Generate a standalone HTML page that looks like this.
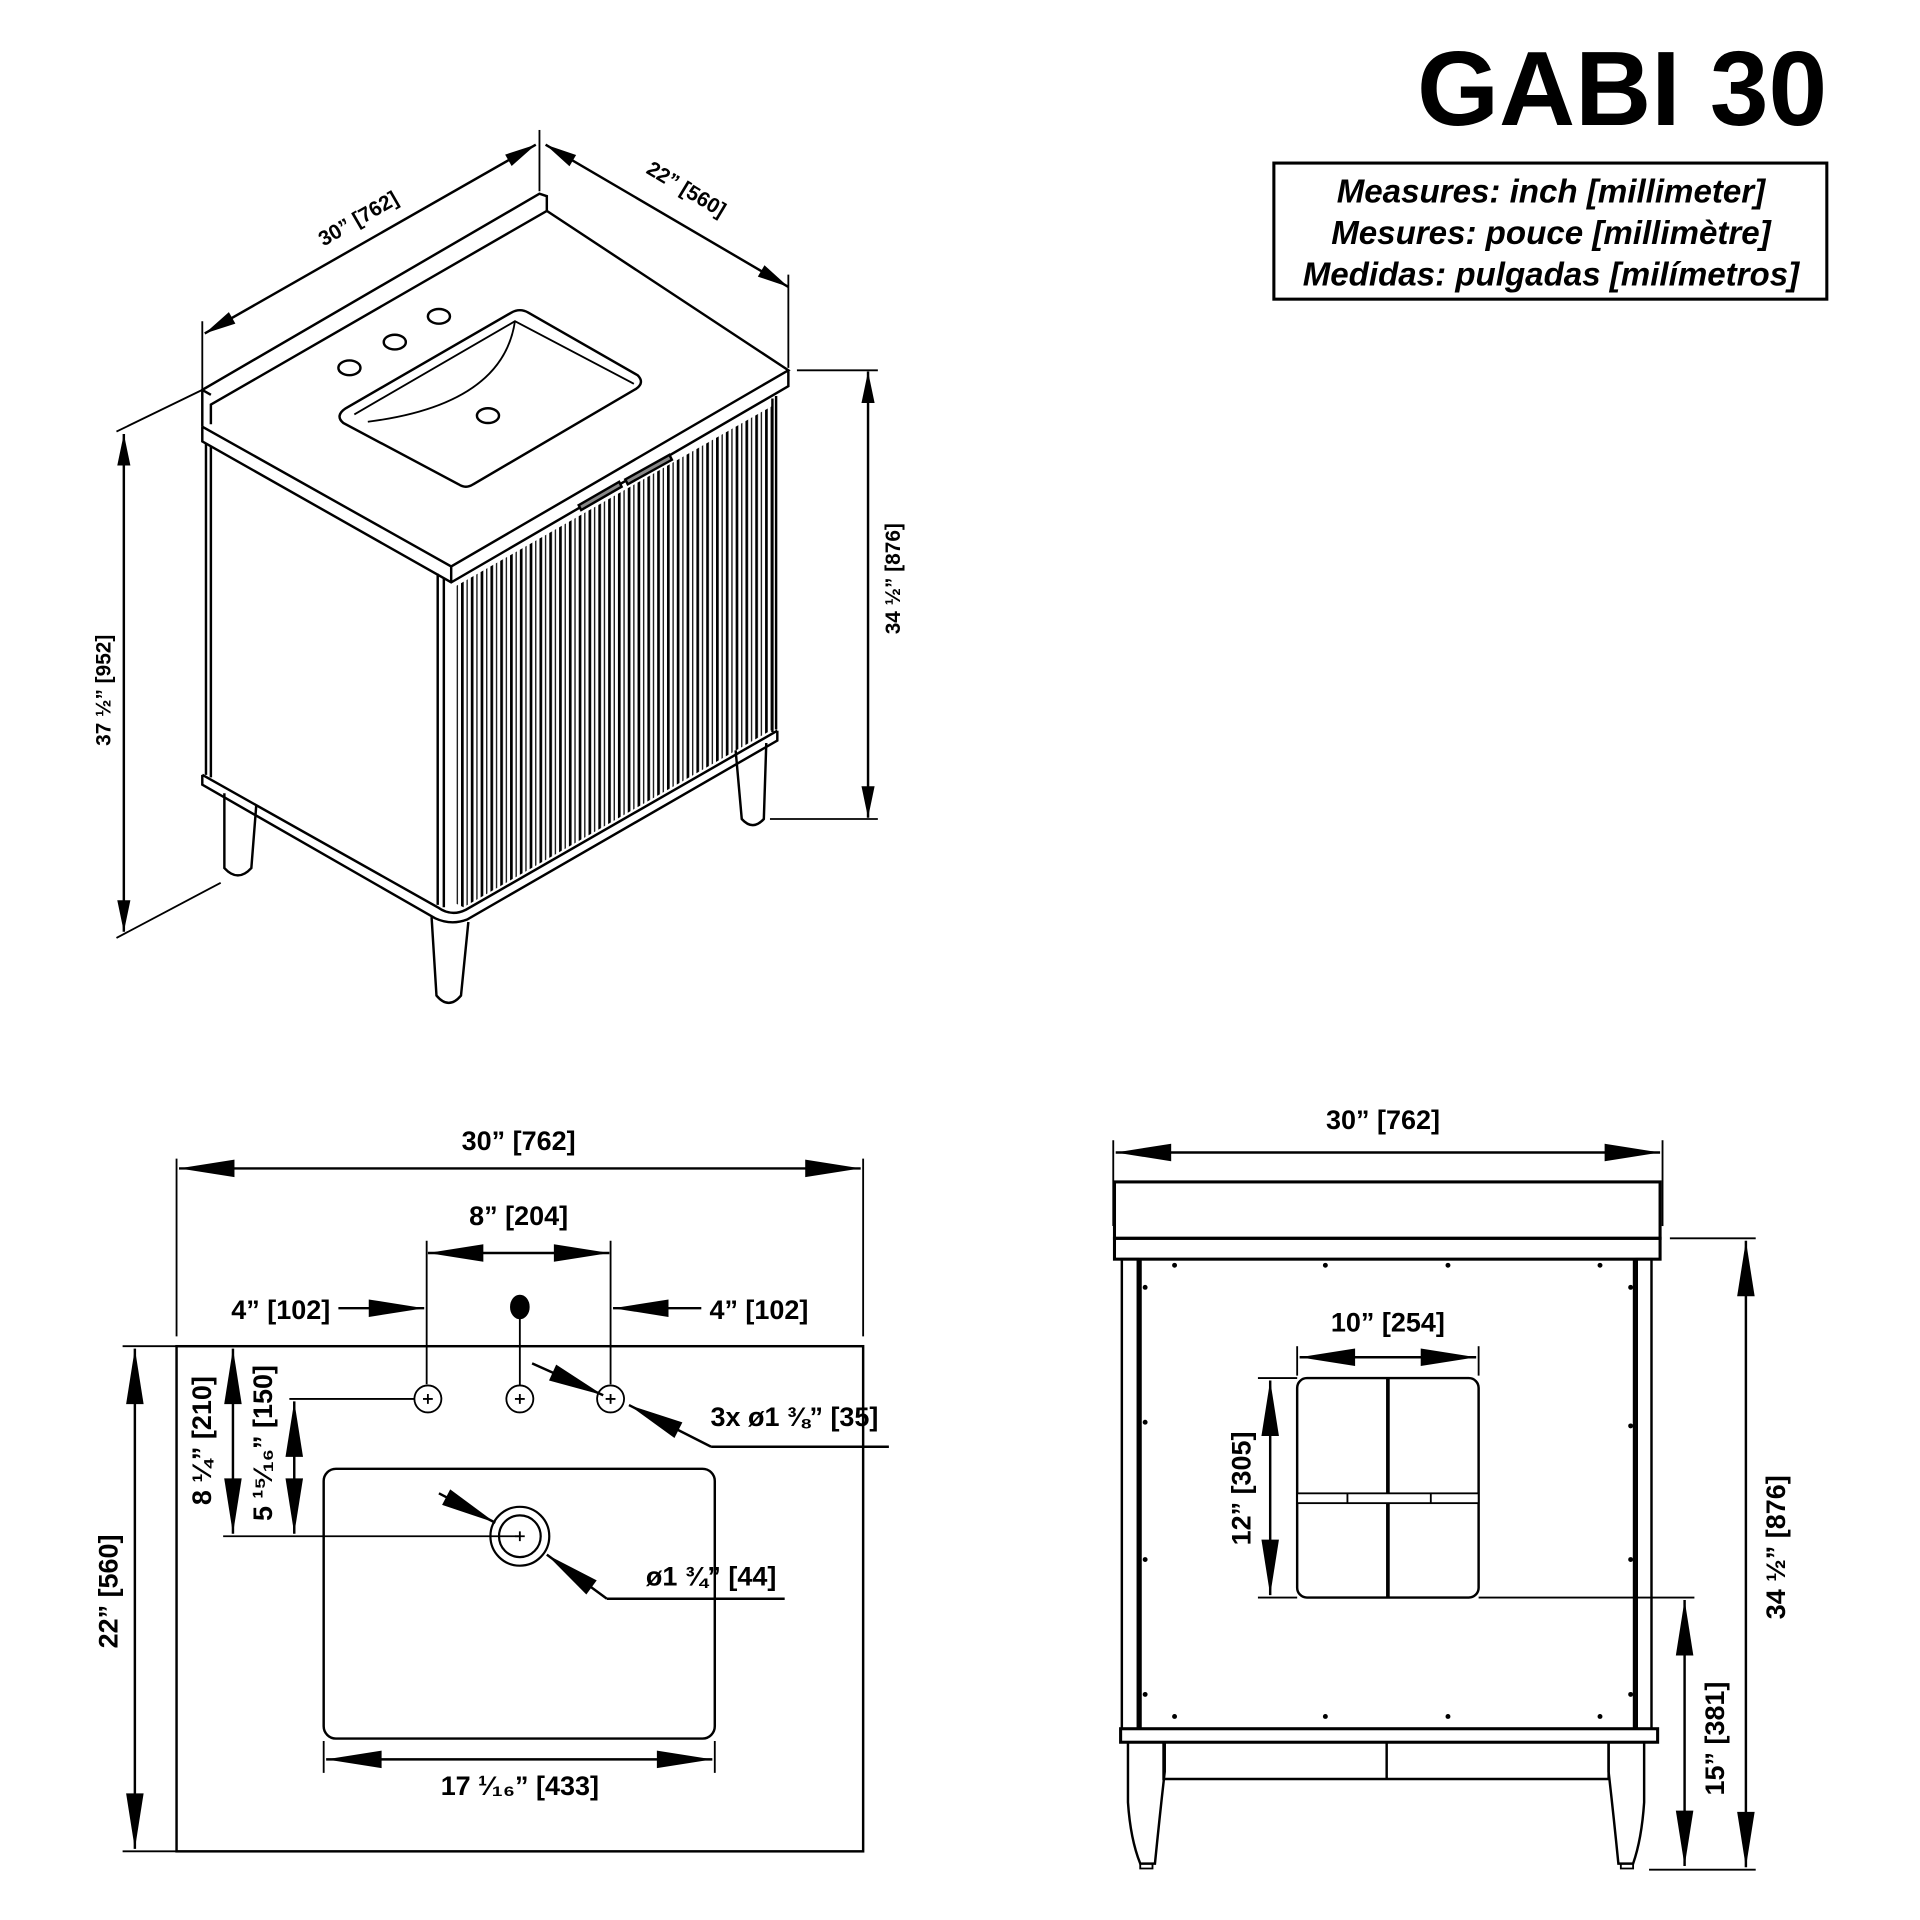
<!DOCTYPE html>
<html><head><meta charset="utf-8"><style>
html,body{margin:0;padding:0;background:#fff}
svg{display:block}
text{font-family:"Liberation Sans",sans-serif;font-weight:bold;fill:#000}
</style></head><body>
<svg width="1920" height="1920" viewBox="0 0 1566 1566" xmlns="http://www.w3.org/2000/svg">
<defs>
<marker id="a" markerUnits="userSpaceOnUse" markerWidth="50" markerHeight="20" viewBox="-40 -8 42 16" refX="0" refY="0" orient="auto-start-reverse"><path d="M0,0 L-38,-6 L-38,6 z" fill="#000"/></marker>
<marker id="s" markerUnits="userSpaceOnUse" markerWidth="30" markerHeight="14" viewBox="-26 -6 28 12" refX="0" refY="0" orient="auto-start-reverse"><path d="M0,0 L-24,-5 L-24,5 z" fill="#000"/></marker>
<pattern id="fl" patternUnits="userSpaceOnUse" width="8" height="10"><rect x="0" y="0" width="2.2" height="10" fill="#000"/><rect x="4.5" y="0" width="1" height="10" fill="#000"/></pattern>
</defs>
<g fill="none" stroke="#000" stroke-width="2">

<!-- Title -->
<text x="1323" y="102" font-size="86" text-anchor="middle" stroke="none">GABI 30</text>
<rect x="1039" y="133" width="451" height="111" stroke-width="2.5"/>
<g font-style="italic" font-size="27" text-anchor="middle" stroke="none">
<text x="1265" y="165">Measures: inch [millimeter]</text>
<text x="1265" y="199">Mesures: pouce [millimètre]</text>
<text x="1265" y="233">Medidas: pulgadas [milímetros]</text>
</g>

<!-- ISO VIEW -->
<path d="M165,348 L165,318 L440,158 L446,160 L446,172 L172,330 L172,346"/>
<line x1="165" y1="318" x2="172" y2="322"/>
<path d="M165,348 L368,462 L643,302 L446,172"/>
<path d="M165,348 L165,360 L368,475 L643,315 L643,302"/>
<line x1="368" y1="462" x2="368" y2="475"/>
<path d="M282,333 L417,255 Q424,251 431,255 L520,306 Q526,312 519,317 L386,395 Q380,399 374,395 L280,345 Q273,339 282,333 z"/>
<path d="M289,338 L420,262 L517,313" stroke-width="1.5"/>
<path d="M420,262 Q410,330 300,344" stroke-width="1.5"/>
<ellipse cx="285" cy="300" rx="9" ry="6"/>
<ellipse cx="322" cy="279" rx="9" ry="6"/>
<ellipse cx="358" cy="258" rx="9" ry="6"/>
<ellipse cx="398" cy="339" rx="9" ry="6"/>
<line x1="168" y1="362" x2="168" y2="632"/>
<line x1="172" y1="364" x2="172" y2="634"/>
<polygon points="372,478 630,331 630,595 378,740 372,737" fill="url(#fl)" stroke="none"/>
<line x1="357" y1="468" x2="357" y2="738"/>
<line x1="362" y1="471" x2="362" y2="740"/>
<line x1="630" y1="325" x2="630" y2="597"/>
<line x1="633" y1="323" x2="633" y2="595"/>
<path d="M472,412 L505,393 L507,397 L474,416 z" fill="#888"/>
<path d="M510,391 L546,371 L548,375 L512,395 z" fill="#888"/>
<path d="M165,632 L357,740 Q368,748 380,742 L634,596"/>
<path d="M165,632 L165,640 L355,749 Q368,755 381,750 L634,604 L634,596"/>
<path d="M183,647 L183,708 Q194,720 205,708 L209,657"/>
<path d="M352,748 L356,812 Q366,824 376,812 L382,752"/>
<path d="M600,612 L605,668 Q614,678 623,668 L625,606"/>
<line x1="167" y1="272" x2="437" y2="118" marker-start="url(#s)" marker-end="url(#s)"/>
<line x1="165" y1="262" x2="165" y2="318" stroke-width="1.5"/>
<line x1="440" y1="106" x2="440" y2="156" stroke-width="1.5"/>
<line x1="445" y1="118" x2="643" y2="234" marker-start="url(#s)" marker-end="url(#s)"/>
<line x1="643" y1="224" x2="643" y2="300" stroke-width="1.5"/>
<text x="292" y="184" font-size="17" text-anchor="middle" stroke="none" font-weight="normal" transform="rotate(-30 292 178)">30” [762]</text>
<text x="560" y="160" font-size="17" text-anchor="middle" stroke="none" font-weight="normal" transform="rotate(31 560 154)">22” [560]</text>
<line x1="708" y1="303" x2="708" y2="667" marker-start="url(#s)" marker-end="url(#s)"/>
<line x1="650" y1="302" x2="716" y2="302" stroke-width="1.5"/>
<line x1="628" y1="668" x2="716" y2="668" stroke-width="1.5"/>
<text x="734" y="472" font-size="17" text-anchor="middle" stroke="none" transform="rotate(-90 734 472)">34 ½” [876]</text>
<line x1="101" y1="354" x2="101" y2="760" marker-start="url(#s)" marker-end="url(#s)"/>
<line x1="95" y1="352" x2="165" y2="318" stroke-width="1.5"/>
<line x1="95" y1="765" x2="180" y2="720" stroke-width="1.5"/>
<text x="90" y="563" font-size="17" text-anchor="middle" stroke="none" transform="rotate(-90 90 563)">37 ½” [952]</text>

<!-- PLAN VIEW -->
<rect x="144" y="1098" width="560" height="412"/>
<line x1="144" y1="945" x2="144" y2="1090" stroke-width="1.5"/>
<line x1="704" y1="945" x2="704" y2="1090" stroke-width="1.5"/>
<line x1="146" y1="953" x2="702" y2="953" marker-start="url(#a)" marker-end="url(#a)"/>
<text x="423" y="938" font-size="22" text-anchor="middle" stroke="none">30” [762]</text>
<line x1="348" y1="1012" x2="348" y2="1129" stroke-width="1.5"/>
<line x1="498" y1="1012" x2="498" y2="1129" stroke-width="1.5"/>
<line x1="349" y1="1022" x2="497" y2="1022" marker-start="url(#a)" marker-end="url(#a)"/>
<text x="423" y="999" font-size="22" text-anchor="middle" stroke="none">8” [204]</text>
<line x1="276" y1="1067" x2="346" y2="1067" marker-end="url(#a)"/>
<text x="229" y="1076" font-size="22" text-anchor="middle" stroke="none">4” [102]</text>
<line x1="572" y1="1067" x2="500" y2="1067" marker-end="url(#a)"/>
<text x="619" y="1076" font-size="22" text-anchor="middle" stroke="none">4” [102]</text>
<ellipse cx="424" cy="1066" rx="7" ry="9" fill="#000"/>
<line x1="424" y1="1066" x2="424" y2="1130" stroke-width="1.5"/>
<g stroke-width="1.5">
<circle cx="349" cy="1141" r="11"/><circle cx="424" cy="1141" r="11"/><circle cx="498" cy="1141" r="11"/>
<path d="M345,1141h8M349,1137v8M420,1141h8M424,1137v8M494,1141h8M498,1137v8"/>
</g>
<line x1="434" y1="1112" x2="492" y2="1138" marker-end="url(#a)"/>
<path d="M580,1180 L513,1146" marker-end="url(#a)"/>
<line x1="580" y1="1180" x2="725" y2="1180"/>
<text x="648" y="1163" font-size="22" text-anchor="middle" stroke="none">3x ø1 ⅜” [35]</text>
<rect x="264" y="1198" width="319" height="220" rx="10"/>
<circle cx="424" cy="1253" r="24" stroke-width="1.8"/>
<circle cx="424" cy="1253" r="17" stroke-width="1.8"/>
<path d="M420,1253h8M424,1249v8" stroke-width="1.5"/>
<line x1="358" y1="1218" x2="404" y2="1242" marker-end="url(#a)"/>
<path d="M495,1304 L446,1268" marker-end="url(#a)"/>
<line x1="495" y1="1304" x2="640" y2="1304"/>
<text x="580" y="1293" font-size="22" text-anchor="middle" stroke="none">ø1 ¾” [44]</text>
<line x1="264" y1="1420" x2="264" y2="1446" stroke-width="1.5"/>
<line x1="583" y1="1420" x2="583" y2="1446" stroke-width="1.5"/>
<line x1="266" y1="1435" x2="581" y2="1435" marker-start="url(#a)" marker-end="url(#a)"/>
<text x="424" y="1464" font-size="22" text-anchor="middle" stroke="none">17 ¹⁄₁₆” [433]</text>
<line x1="100" y1="1098" x2="144" y2="1098" stroke-width="1.5"/>
<line x1="100" y1="1510" x2="144" y2="1510" stroke-width="1.5"/>
<line x1="110" y1="1100" x2="110" y2="1508" marker-start="url(#a)" marker-end="url(#a)"/>
<text x="96" y="1298" font-size="22" text-anchor="middle" stroke="none" transform="rotate(-90 96 1298)">22” [560]</text>
<line x1="190" y1="1100" x2="190" y2="1251" marker-start="url(#a)" marker-end="url(#a)"/>
<line x1="182" y1="1253" x2="424" y2="1253" stroke-width="1.5"/>
<text x="172" y="1175" font-size="22" text-anchor="middle" stroke="none" transform="rotate(-90 172 1175)">8 ¼” [210]</text>
<line x1="240" y1="1143" x2="240" y2="1251" marker-start="url(#a)" marker-end="url(#a)"/>
<line x1="236" y1="1141" x2="338" y2="1141" stroke-width="1.5"/>
<text x="222" y="1177" font-size="22" text-anchor="middle" stroke="none" transform="rotate(-90 222 1177)">5 ¹⁵⁄₁₆” [150]</text>

<!-- FRONT VIEW -->
<line x1="908" y1="930" x2="908" y2="1000" stroke-width="1.5"/>
<line x1="1356" y1="930" x2="1356" y2="1000" stroke-width="1.5"/>
<line x1="910" y1="940" x2="1354" y2="940" marker-start="url(#a)" marker-end="url(#a)"/>
<text x="1128" y="921" font-size="22" text-anchor="middle" stroke="none">30” [762]</text>
<rect x="909" y="964" width="445" height="46" stroke-width="2.5"/>
<rect x="909" y="1010" width="445" height="17" stroke-width="2.5"/>
<rect x="915" y="1027" width="13" height="383" stroke-width="2"/>
<rect x="1335" y="1027" width="12" height="383" stroke-width="2"/>
<line x1="930" y1="1027" x2="930" y2="1410" stroke-width="2.5"/>
<line x1="1333" y1="1027" x2="1333" y2="1410" stroke-width="2.5"/>
<rect x="914" y="1410" width="438" height="11" stroke-width="2.5"/>
<path d="M949,1421 L949,1451 L1312,1451 L1312,1421"/>
<line x1="1131" y1="1421" x2="1131" y2="1451"/>
<path d="M920,1421 L920,1470 Q922,1500 930,1520 L942,1520 Q946,1480 950,1445 L950,1421"/>
<path d="M1341,1421 L1341,1470 Q1339,1500 1332,1520 L1320,1520 Q1316,1480 1312,1445 L1312,1421"/>
<path d="M930,1520v4h10v-4M1322,1520v4h10v-4" stroke-width="1.5"/>
<g fill="#000" stroke="none">
<circle cx="958" cy="1032" r="2"/><circle cx="1081" cy="1032" r="2"/><circle cx="1181" cy="1032" r="2"/><circle cx="1305" cy="1032" r="2"/>
<circle cx="958" cy="1400" r="2"/><circle cx="1081" cy="1400" r="2"/><circle cx="1181" cy="1400" r="2"/><circle cx="1305" cy="1400" r="2"/>
<circle cx="934" cy="1050" r="2"/><circle cx="934" cy="1160" r="2"/><circle cx="934" cy="1272" r="2"/><circle cx="934" cy="1382" r="2"/>
<circle cx="1330" cy="1050" r="2"/><circle cx="1330" cy="1163" r="2"/><circle cx="1330" cy="1272" r="2"/><circle cx="1330" cy="1382" r="2"/>
</g>
<rect x="1058" y="1124" width="148" height="179" rx="8"/>
<line x1="1132" y1="1124" x2="1132" y2="1303" stroke-width="3"/>
<rect x="1058" y="1218" width="148" height="8" fill="#fff" stroke-width="1.5"/>
<path d="M1099,1218v8M1167,1218v8" stroke-width="1.5"/>
<line x1="1058" y1="1098" x2="1058" y2="1122" stroke-width="1.5"/>
<line x1="1206" y1="1098" x2="1206" y2="1122" stroke-width="1.5"/>
<line x1="1060" y1="1107" x2="1204" y2="1107" marker-start="url(#a)" marker-end="url(#a)"/>
<text x="1132" y="1086" font-size="22" text-anchor="middle" stroke="none">10” [254]</text>
<line x1="1026" y1="1124" x2="1058" y2="1124" stroke-width="1.5"/>
<line x1="1026" y1="1303" x2="1058" y2="1303" stroke-width="1.5"/>
<line x1="1036" y1="1126" x2="1036" y2="1301" marker-start="url(#a)" marker-end="url(#a)"/>
<text x="1020" y="1214" font-size="22" text-anchor="middle" stroke="none" transform="rotate(-90 1020 1214)">12” [305]</text>
<line x1="1206" y1="1303" x2="1382" y2="1303" stroke-width="1.5"/>
<line x1="1374" y1="1305" x2="1374" y2="1522" marker-start="url(#a)" marker-end="url(#a)"/>
<text x="1406" y="1418" font-size="22" text-anchor="middle" stroke="none" transform="rotate(-90 1406 1418)">15” [381]</text>
<line x1="1362" y1="1010" x2="1432" y2="1010" stroke-width="1.5"/>
<line x1="1345" y1="1525" x2="1432" y2="1525" stroke-width="1.5"/>
<line x1="1424" y1="1012" x2="1424" y2="1523" marker-start="url(#a)" marker-end="url(#a)"/>
<text x="1456" y="1262" font-size="22" text-anchor="middle" stroke="none" transform="rotate(-90 1456 1262)">34 ½” [876]</text>
</g>
</svg>
</body></html>
